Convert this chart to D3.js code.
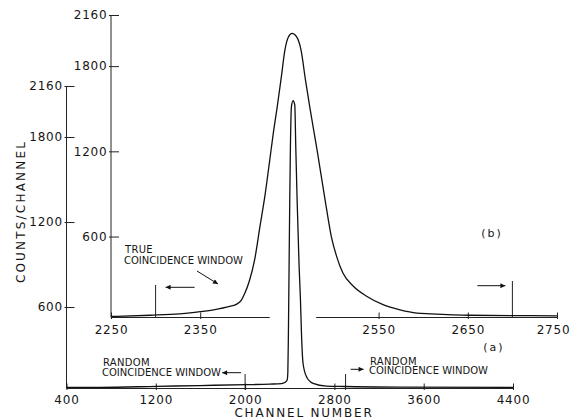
<!DOCTYPE html>
<html>
<head>
<meta charset="utf-8">
<script src="https://cdn.jsdelivr.net/npm/d3@7"></script>
<style>
  body { margin: 0; background: #fff; }
  text { font-family: "DejaVu Sans", sans-serif; fill: #161616; }
</style>
</head>
<body>
<svg id="chart" width="571" height="419"></svg>
<script>
// (a) full spectrum, (b) expanded view of the peak
const channelA = [400, 696, 1207, 1593, 2012, 2221, 2326, 2355, 2377, 2383, 2388, 2394, 2400, 2406, 2415, 2430,
                  2445, 2454, 2466, 2484, 2496, 2505, 2519, 2550, 2609, 2729, 2893, 3387, 4400];
const countsA  = [33, 33, 40, 46, 52, 56, 60, 67, 85, 141, 416, 884, 1355, 1731, 2014, 2056,
                  2026, 1731, 1355, 884, 649, 414, 203, 108, 61, 42, 39, 35, 33];

const channelB = [2250, 2294, 2327, 2346, 2365, 2383, 2391, 2396, 2400, 2405, 2411, 2417, 2423, 2428, 2432, 2436.5, 2441,
                  2445, 2449, 2453, 2458, 2463, 2468, 2473, 2481, 2490, 2497, 2503, 2510, 2522, 2537, 2555,
                  2574, 2593, 2608, 2652, 2750];
const countsB  = [37, 46, 56, 68, 84, 108, 124, 150, 200, 285, 436, 671, 906, 1140, 1330, 1520, 1726,
                  1914, 2007, 2031, 2007, 1914, 1703, 1506, 1210, 858, 600, 459, 343, 248, 178, 120,
                  84, 61, 56, 46, 42];

const yTicks = [600, 1200, 1800, 2160];
const xTicksA = [400, 1200, 2000, 2800, 3600, 4400];
const xTicksB = [2250, 2350, 2550, 2650, 2750];
const randomWindow = [2000, 2900];
const trueWindow = [2300, 2700];

const svg = d3.select('#chart');

// scales
const xA = d3.scaleLinear().domain([400, 4400]).range([66.5, 513]);
const yA = d3.scaleLinear().domain([25, 2160]).range([388.5, 86]);
const xB = d3.scaleLinear().domain([2250, 2750]).range([111, 557]);
const yB = d3.scaleLinear().domain([30, 2160]).range([317.5, 15]);

function xAxis(scale, ticks, y, labelY) {
    const g = svg.append('g')
        .attr('transform', `translate(0,${y})`)
        .call(d3.axisBottom(scale).tickValues(ticks).tickSize(0).tickFormat(d3.format('d')));
    g.select('.domain').remove();
    g.attr('font-size', 12).attr('font-family', '"DejaVu Sans", sans-serif');
    g.selectAll('.tick line').attr('y1', -5).attr('y2', 1.5).attr('stroke', '#222');
    g.selectAll('.tick text').attr('y', labelY).attr('dy', null).attr('letter-spacing', 0.8).attr('fill', '#161616');
    return g;
}

function yAxis(scale, x) {
    const g = svg.append('g')
        .attr('transform', `translate(${x},0)`)
        .call(d3.axisLeft(scale).tickValues(yTicks).tickSize(0).tickPadding(3.5).tickFormat(d3.format('d')));
    g.select('.domain').remove();
    g.attr('font-size', 12).attr('font-family', '"DejaVu Sans", sans-serif');
    g.selectAll('.tick line').attr('x1', -2).attr('x2', 8).attr('stroke', '#222');
    g.selectAll('.tick text').attr('letter-spacing', 0.8).attr('fill', '#161616');
    svg.append('line')
        .attr('x1', x).attr('x2', x)
        .attr('y1', scale(2160)).attr('y2', scale.range()[0])
        .attr('stroke', '#222').attr('stroke-width', 1);
}

// axes (a)
yAxis(yA, 66.5);
xAxis(xA, xTicksA, 388.5, 15);
svg.append('line')
    .attr('x1', xA(400)).attr('x2', xA(4400))
    .attr('y1', 388.5).attr('y2', 388.5)
    .attr('stroke', '#222');

// axes (b) - baseline broken where the narrow peak passes
yAxis(yB, 111);
const axB = xAxis(xB, xTicksB, 317.5, 16);
axB.selectAll('.tick text').filter(d => d === 2750).attr('x', -4);
[[2250, 2428], [2480, 2750]].forEach(([a, b]) => {
    svg.append('line')
        .attr('x1', xB(a)).attr('x2', xB(b))
        .attr('y1', 317.5).attr('y2', 317.5)
        .attr('stroke', '#222');
});

// window markers
svg.append('g').selectAll('line')
    .data(randomWindow)
    .join('line')
    .attr('x1', d => xA(d)).attr('x2', d => xA(d))
    .attr('y1', 374).attr('y2', 390)
    .attr('stroke', '#222');

svg.append('g').selectAll('line')
    .data(trueWindow)
    .join('line')
    .attr('x1', d => xB(d)).attr('x2', d => xB(d))
    .attr('y1', (d, i) => i === 0 ? 285 : 281).attr('y2', 318)
    .attr('stroke', '#222');

// curves
const lineA = d3.line()
    .x((d, i) => xA(channelA[i]))
    .y(d => yA(d))
    .curve(d3.curveMonotoneX);
const lineB = d3.line()
    .x((d, i) => xB(channelB[i]))
    .y(d => yB(d))
    .curve(d3.curveMonotoneX);

svg.append('path').attr('d', lineA(countsA))
    .attr('fill', 'none').attr('stroke', '#111').attr('stroke-width', 1.3);
svg.append('path').attr('d', lineB(countsB))
    .attr('fill', 'none').attr('stroke', '#111').attr('stroke-width', 1.3);

// arrows
svg.append('defs').append('marker')
    .attr('id', 'head')
    .attr('viewBox', '0 -5 10 10')
    .attr('refX', 10).attr('refY', 0)
    .attr('markerWidth', 7).attr('markerHeight', 5)
    .attr('markerUnits', 'userSpaceOnUse')
    .attr('orient', 'auto')
    .append('path').attr('d', 'M0,-5L10,0L0,5Z').attr('fill', '#111');

const arrows = [
    [xB(trueWindow[0]) + 39, 287.3, xB(trueWindow[0]) + 10, 287.3],
    [xB(trueWindow[1]) - 35, 285.7, xB(trueWindow[1]) - 7, 285.7],
    [197, 271, 218, 284],
    [xA(randomWindow[0]) - 4, 372.7, xA(randomWindow[0]) - 23, 372.7],
    [xA(randomWindow[1]) + 5, 369.3, xA(randomWindow[1]) + 18, 369.3]
];
svg.append('g').selectAll('line')
    .data(arrows)
    .join('line')
    .attr('x1', d => d[0]).attr('y1', d => d[1])
    .attr('x2', d => d[2]).attr('y2', d => d[3])
    .attr('stroke', '#111').attr('stroke-width', 1)
    .attr('marker-end', 'url(#head)');

// annotation text
function label(x, y, s, size, spacing) {
    svg.append('text')
        .attr('x', x).attr('y', y)
        .attr('font-size', size)
        .attr('letter-spacing', spacing || 0)
        .text(s);
}
label(125, 252.6, 'TRUE', 10, 0.3);
label(124, 264.3, 'COINCIDENCE  WINDOW', 10, 0);
label(103, 366.3, 'RANDOM', 10, 0.3);
label(102, 376.3, 'COINCIDENCE  WINDOW', 10, 0);
label(370, 364.6, 'RANDOM', 10, 0.3);
label(369, 374.3, 'COINCIDENCE  WINDOW', 10, 0);

svg.append('text').attr('x', 492).attr('y', 237).attr('text-anchor', 'middle')
    .attr('font-size', 11).attr('letter-spacing', 2).text('(b)');
svg.append('text').attr('x', 494).attr('y', 350.5).attr('text-anchor', 'middle')
    .attr('font-size', 11).attr('letter-spacing', 2).text('(a)');

// axis titles
svg.append('text')
    .attr('transform', 'translate(25,211.5) rotate(-90)')
    .attr('text-anchor', 'middle')
    .attr('font-size', 12).attr('letter-spacing', 2.2)
    .text('COUNTS/CHANNEL');
svg.append('text')
    .attr('x', 304).attr('y', 417)
    .attr('text-anchor', 'middle')
    .attr('font-size', 12).attr('letter-spacing', 1.8)
    .text('CHANNEL NUMBER');
</script>
</body>
</html>
